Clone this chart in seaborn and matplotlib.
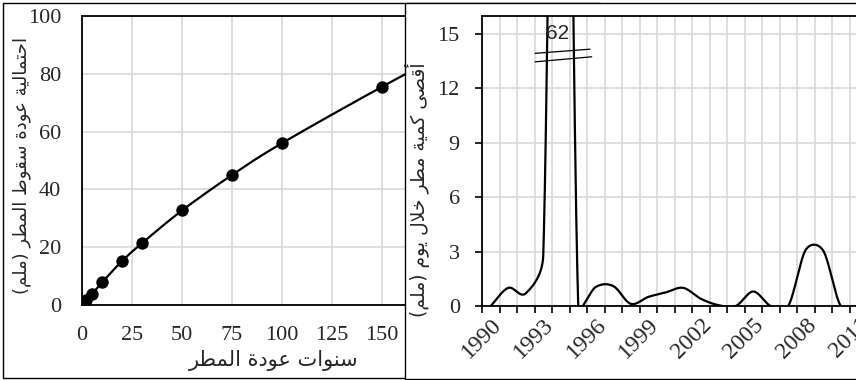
import numpy as np
import pandas as pd
import matplotlib
matplotlib.use("Agg")
import matplotlib.pyplot as plt
from matplotlib.patches import Rectangle
import seaborn as sns

# ---------------- data ----------------
return_years = [2, 5, 10, 20, 30, 50, 75, 100, 150, 200]
return_rain = [1.6, 3.8, 7.8, 15.2, 21.4, 32.7, 45.0, 56.0, 75.5, 94.0]

years = list(range(1990, 2012))
max_rain = [0.0, 1.0, 0.7, 2.8, 62.0, 0.0, 1.05, 1.1, 0.12, 0.5, 0.75,
            1.0, 0.4, 0.05, 0.0, 0.8, 0.0, 0.0, 3.1, 3.05, 0.0, 0.0]

left_xticks = [0, 25, 50, 75, 100, 125, 150, 175]
left_yticks = [0, 20, 40, 60, 80, 100]
right_yticks = [0, 3, 6, 9, 12, 15]

left_ylabel = "احتمالية عودة سقوط المطر (ملم)"
left_xlabel = "سنوات عودة المطر"
right_ylabel = "أقصى كمية مطر خلال يوم (ملم)"

# ------------- arabic shaping (matplotlib has no bidi/shaping) -------------
FORMS = {
    'ا': ('\uFE8D', '\uFE8E', None, None),
    'أ': ('\uFE83', '\uFE84', None, None),
    'ح': ('\uFEA1', '\uFEA2', '\uFEA3', '\uFEA4'),
    'خ': ('\uFEA5', '\uFEA6', '\uFEA7', '\uFEA8'),
    'ت': ('\uFE95', '\uFE96', '\uFE97', '\uFE98'),
    'م': ('\uFEE1', '\uFEE2', '\uFEE3', '\uFEE4'),
    'ل': ('\uFEDD', '\uFEDE', '\uFEDF', '\uFEE0'),
    'ي': ('\uFEF1', '\uFEF2', '\uFEF3', '\uFEF4'),
    'ة': ('\uFE93', '\uFE94', None, None),
    'ع': ('\uFEC9', '\uFECA', '\uFECB', '\uFECC'),
    'و': ('\uFEED', '\uFEEE', None, None),
    'د': ('\uFEA9', '\uFEAA', None, None),
    'س': ('\uFEB1', '\uFEB2', '\uFEB3', '\uFEB4'),
    'ق': ('\uFED5', '\uFED6', '\uFED7', '\uFED8'),
    'ط': ('\uFEC1', '\uFEC2', '\uFEC3', '\uFEC4'),
    'ر': ('\uFEAD', '\uFEAE', None, None),
    'ن': ('\uFEE5', '\uFEE6', '\uFEE7', '\uFEE8'),
    'ص': ('\uFEB9', '\uFEBA', '\uFEBB', '\uFEBC'),
    'ى': ('\uFEEF', '\uFEF0', None, None),
    'ك': ('\uFED9', '\uFEDA', '\uFEDB', '\uFEDC'),
}
LIG = {'ا': ('\uFEFB', '\uFEFC'), 'أ': ('\uFEF7', '\uFEF8')}


def shape(s):
    def dual(c):
        return c in FORMS and FORMS[c][2] is not None
    res = []
    i, n = 0, len(s)
    while i < n:
        c = s[i]
        if c not in FORMS:
            res.append(c)
            i += 1
            continue
        jp = dual(s[i - 1]) if i > 0 else False
        if c == 'ل' and i + 1 < n and s[i + 1] in LIG:
            iso, fin = LIG[s[i + 1]]
            res.append(fin if jp else iso)
            i += 2
            continue
        nxt = s[i + 1] if i + 1 < n else ''
        jn = dual(c) and nxt in FORMS
        iso, fin, ini, med = FORMS[c]
        if jp and jn:
            g = med
        elif jp:
            g = fin
        elif jn:
            g = ini
        else:
            g = iso
        res.append(g)
        i += 1
    vis = ''.join(reversed(res))
    return vis.translate(str.maketrans('()', ')('))


# ------------- excel-like smoothing of a polyline (rendering only) -------------
def smooth(x, y, sx, sy, n=80):
    P = np.column_stack([np.asarray(x, float) * sx, np.asarray(y, float) * sy])
    m = len(P)
    out = []
    for i in range(m - 1):
        p0 = P[i - 1] if i > 0 else P[i]
        p1, p2 = P[i], P[i + 1]
        p3 = P[i + 2] if i + 2 < m else P[i + 1]
        d02 = np.linalg.norm(p2 - p0)
        d12 = np.linalg.norm(p2 - p1)
        d13 = np.linalg.norm(p3 - p1)
        f = 1 / 6
        g = 1 / 6
        if d02 > 0 and d02 / 6 >= d12 / 2:
            f = d12 / d02 / 2
        if d13 > 0 and d13 / 6 >= d12 / 2:
            g = d12 / d13 / 2
        c1 = p1 + f * (p2 - p0)
        c2 = p2 - g * (p3 - p1)
        t = np.linspace(0, 1, n)[:, None]
        B = ((1 - t) ** 3) * p1 + 3 * ((1 - t) ** 2) * t * c1 + 3 * (1 - t) * t ** 2 * c2 + t ** 3 * p2
        out.append(B if i == 0 else B[1:])
    B = np.vstack(out)
    return B[:, 0] / sx, B[:, 1] / sy


# ---------------- figure ----------------
sns.set_style("white")
plt.rcParams['font.family'] = ['Liberation Serif', 'DejaVu Sans']
plt.rcParams['axes.unicode_minus'] = False

W, H = 856, 380
fig = plt.figure(figsize=(W / 100, H / 100), dpi=100)


def fx(px):
    return px / W


def fy(py):
    return 1 - py / H


GRID = '#d9d9d9'
AR_FONT = ['DejaVu Sans']

# ---- left chart ----
ax1 = fig.add_axes([fx(82), fy(305), 384 / W, 289 / H], zorder=0)
ax1.set_facecolor('white')
lx, ly = smooth(return_years, return_rain, 2.0, 2.89)
sns.lineplot(x=lx, y=ly, ax=ax1, color='black', lw=1.6, sort=False, estimator=None, zorder=3)
sns.scatterplot(x=return_years, y=return_rain, ax=ax1, color='black', s=80,
                edgecolor='black', linewidth=0, zorder=4, clip_on=True)
ax1.set_xlim(0, 192)
ax1.set_ylim(0, 100)
ax1.set_xticks(left_xticks)
ax1.set_yticks(left_yticks)
ax1.grid(True, color=GRID, lw=1.2, zorder=0)
ax1.set_axisbelow(True)
for sp in ax1.spines.values():
    sp.set_color('black')
    sp.set_linewidth(1.3)
ax1.tick_params(length=0, pad=15, labelsize=16)
ax1.set_xlabel(shape(left_xlabel), family=AR_FONT, fontsize=15, va='top')
ax1.xaxis.set_label_coords(0.5, -0.155)
ax1.set_ylabel(shape(left_ylabel), family=AR_FONT, fontsize=13)
ax1.yaxis.set_label_coords(-0.132, 0.484)

# ---- panel frames ----
fig.add_artist(Rectangle((fx(3), fy(378)), fx(600) - fx(3), fy(3) - fy(378),
                         transform=fig.transFigure, fill=False, ec='black', lw=1.0, zorder=1))
fig.add_artist(Rectangle((fx(405), fy(379)), fx(900) - fx(405), fy(3) - fy(379),
                         transform=fig.transFigure, fc='white', ec='black', lw=1.0, zorder=2))

# ---- right chart ----
ax2 = fig.add_axes([fx(482), fy(306), 385 / W, 290 / H], zorder=3)
ax2.set_facecolor('white')
idx = np.arange(len(years))
rx, ry = smooth(idx, max_rain, 17.5, 18.13)
sns.lineplot(x=rx, y=ry, ax=ax2, color='black', lw=1.6, sort=False, estimator=None, zorder=3)
ax2.set_xlim(-0.5, len(years) - 0.5)
ymax = 16
ax2.set_ylim(0, ymax)
ax2.set_yticks(right_yticks)
ax2.set_xticks(np.arange(-0.5, len(years), 1.0))
ax2.set_xticklabels([])
lab_pos = [i for i, yv in enumerate(years) if (yv - 1990) % 3 == 0]
ax2.set_xticks(lab_pos, [str(years[i]) for i in lab_pos], minor=True)
ax2.grid(True, which='major', color=GRID, lw=1.2, zorder=0)
ax2.set_axisbelow(True)
for sp in ax2.spines.values():
    sp.set_color('black')
    sp.set_linewidth(1.3)
ax2.tick_params(axis='y', length=5, width=1.2, pad=11, labelsize=16, left=True, color='black')
ax2.tick_params(axis='x', which='major', length=5, width=1.2, bottom=True, direction='out', color='black')
ax2.tick_params(axis='x', which='minor', length=0, pad=6, labelsize=17)
for lbl in ax2.get_xticklabels(minor=True):
    lbl.set_rotation(45)
    lbl.set_ha('right')
    lbl.set_va('top')
    lbl.set_rotation_mode('anchor')
ax2.set_ylabel(shape(right_ylabel), family=AR_FONT, fontsize=13.5)
ax2.yaxis.set_label_coords(-0.135, 0.4)

# broken-axis marker for the out-of-range peak
pk = int(np.argmax(max_rain))
ax2.plot([pk - 1.47, pk + 1.67], [ymax - 2.06, ymax - 1.83], color='black', lw=0.9, zorder=4, clip_on=False)
ax2.plot([pk - 1.47, pk + 1.77], [ymax - 2.53, ymax - 2.25], color='black', lw=0.9, zorder=4, clip_on=False)
ax2.text(pk - 0.16, ymax - 0.94, f"{max_rain[pk]:.0f}", family=['Liberation Sans'], fontsize=15,
         ha='center', va='center', zorder=5)

fig.savefig("out.png", dpi=100)
